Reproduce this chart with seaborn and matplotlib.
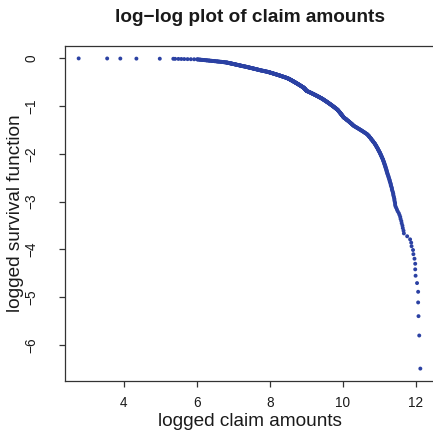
import numpy as np
import pandas as pd
import matplotlib
matplotlib.use("Agg")
import matplotlib.pyplot as plt
import seaborn as sns

# Logged claim amounts (natural log), grouped by range
logclaim_2_6 = [2.77, 3.55, 3.91, 4.35, 4.99, 5.36, 5.41, 5.50, 5.58, 5.66, 5.75, 5.84, 5.93]

logclaim_6_7 = [
    6.01, 6.03, 6.04, 6.07, 6.09, 6.10, 6.13, 6.15, 6.16, 6.19,
    6.21, 6.22, 6.25, 6.27, 6.28, 6.31, 6.33, 6.35, 6.36, 6.39,
    6.41, 6.43, 6.44, 6.47, 6.49, 6.50, 6.53, 6.55, 6.57, 6.58,
    6.61, 6.62, 6.65, 6.67, 6.68, 6.70, 6.72, 6.74, 6.75, 6.77,
    6.79, 6.80, 6.82, 6.83, 6.84, 6.85, 6.86, 6.87, 6.88, 6.89,
    6.90, 6.91, 6.92, 6.93, 6.94, 6.95, 6.96, 6.97, 6.98, 6.99,
]

logclaim_7_8 = [
    7.00, 7.01, 7.02, 7.03, 7.04, 7.05, 7.06, 7.07, 7.08, 7.09,
    7.10, 7.11, 7.12, 7.13, 7.14, 7.15, 7.16, 7.17, 7.18, 7.19,
    7.20, 7.21, 7.22, 7.23, 7.24, 7.25, 7.26, 7.27, 7.28, 7.29,
    7.31, 7.32, 7.33, 7.34, 7.35, 7.36, 7.37, 7.38, 7.39, 7.40,
    7.41, 7.42, 7.43, 7.44, 7.45, 7.46, 7.47, 7.48, 7.49, 7.50,
    7.51, 7.52, 7.53, 7.54, 7.55, 7.56, 7.57, 7.58, 7.59, 7.60,
    7.61, 7.62, 7.63, 7.64, 7.65, 7.66, 7.67, 7.68, 7.69, 7.70,
    7.71, 7.72, 7.73, 7.74, 7.75, 7.76, 7.77, 7.79, 7.80, 7.81,
    7.82, 7.83, 7.85, 7.86, 7.87, 7.88, 7.89, 7.90, 7.92, 7.93,
    7.94, 7.95, 7.96, 7.97, 7.98, 7.99,
]

logclaim_8_9 = [
    8.00, 8.00, 8.01,
    8.02, 8.03, 8.04, 8.05, 8.06, 8.07, 8.08, 8.08, 8.09, 8.10,
    8.11, 8.12, 8.13, 8.14, 8.15, 8.15, 8.16, 8.17, 8.18, 8.19,
    8.20, 8.21, 8.21, 8.22, 8.23, 8.24, 8.25, 8.26, 8.27, 8.28,
    8.28, 8.29, 8.30, 8.31, 8.32, 8.33, 8.34, 8.34, 8.35, 8.36,
    8.37, 8.38, 8.39, 8.40, 8.40, 8.41, 8.42, 8.43, 8.44, 8.45,
    8.45, 8.46, 8.47, 8.48, 8.48, 8.49,
    8.50, 8.51, 8.51, 8.52, 8.52, 8.53, 8.53, 8.54, 8.55, 8.55,
    8.56, 8.56, 8.57, 8.57, 8.58, 8.58, 8.59, 8.60, 8.60, 8.61,
    8.61, 8.62, 8.62, 8.63, 8.63, 8.64, 8.65, 8.65, 8.66, 8.66,
    8.67, 8.67, 8.68, 8.68, 8.69, 8.70, 8.70, 8.71, 8.71, 8.72,
    8.72, 8.73, 8.73, 8.74, 8.75, 8.75, 8.76, 8.76, 8.77, 8.77,
    8.78, 8.78, 8.79, 8.80, 8.80, 8.81, 8.81, 8.82, 8.82, 8.83,
    8.83, 8.84, 8.85, 8.85, 8.86, 8.86, 8.87, 8.87, 8.88, 8.88,
    8.89, 8.90, 8.90, 8.91, 8.91, 8.92, 8.92, 8.93, 8.93,
    8.94, 8.94, 8.94, 8.95, 8.95, 8.95, 8.96, 8.96, 8.96, 8.97,
    8.97, 8.97, 8.98, 8.98, 8.98, 8.99, 8.99, 8.99,
]

logclaim_9_10 = [
    9.00, 9.00, 9.00, 9.01, 9.01, 9.02,
    9.03, 9.04, 9.05, 9.06, 9.07, 9.08, 9.08, 9.09, 9.10, 9.11,
    9.12, 9.13, 9.13, 9.14, 9.15, 9.16, 9.17, 9.18, 9.18, 9.19,
    9.20, 9.21, 9.22, 9.23, 9.23, 9.24, 9.25, 9.26, 9.27, 9.28,
    9.28, 9.29, 9.30, 9.31, 9.32, 9.33, 9.33, 9.34, 9.35, 9.36,
    9.37, 9.37, 9.38, 9.39,
    9.40, 9.41, 9.42, 9.42, 9.43, 9.44, 9.45, 9.45, 9.46, 9.47,
    9.47, 9.48, 9.49, 9.50, 9.50, 9.51, 9.52, 9.52, 9.53, 9.54,
    9.55, 9.55, 9.56, 9.57, 9.57, 9.58, 9.59, 9.60, 9.60, 9.61,
    9.62, 9.62, 9.63, 9.64, 9.65, 9.65, 9.66, 9.67, 9.67, 9.68,
    9.69, 9.70, 9.70, 9.71, 9.72, 9.72, 9.73, 9.74, 9.75, 9.75,
    9.76, 9.77, 9.77, 9.78, 9.79, 9.80, 9.80, 9.81, 9.82, 9.82,
    9.83, 9.84,
    9.85, 9.85, 9.86, 9.86, 9.87, 9.87, 9.88, 9.88, 9.89, 9.89,
    9.90, 9.90, 9.91, 9.91, 9.92, 9.92, 9.93, 9.93, 9.94, 9.94,
    9.95, 9.95, 9.96, 9.96, 9.97, 9.97, 9.98, 9.98, 9.99, 9.99,
]

logclaim_10_11 = [
    10.00, 10.00, 10.01, 10.01, 10.02, 10.02, 10.03,
    10.04, 10.05, 10.06, 10.07, 10.08, 10.09, 10.10, 10.10, 10.11, 10.12,
    10.13, 10.14, 10.15, 10.16, 10.17, 10.18, 10.18, 10.19, 10.20, 10.21,
    10.22, 10.23, 10.24, 10.25, 10.25, 10.26, 10.27, 10.28, 10.29, 10.30,
    10.31, 10.32, 10.34, 10.35, 10.37, 10.38, 10.39, 10.41, 10.42, 10.44,
    10.45, 10.46, 10.48, 10.49, 10.51, 10.52, 10.53, 10.55, 10.56, 10.58,
    10.59, 10.60, 10.62, 10.63, 10.65, 10.66, 10.67,
    10.68, 10.69, 10.70, 10.71, 10.72, 10.72, 10.73, 10.74, 10.75, 10.76,
    10.77, 10.77, 10.78, 10.79, 10.80, 10.81, 10.82, 10.82, 10.83, 10.84,
    10.85,
    10.86, 10.87, 10.88, 10.88, 10.89, 10.90, 10.91, 10.91, 10.92, 10.93,
    10.93, 10.94, 10.95, 10.96, 10.96, 10.97, 10.98, 10.98, 10.99,
]

logclaim_11_up = [
    11.00, 11.01, 11.01, 11.02, 11.03, 11.03, 11.04, 11.05, 11.05, 11.06,
    11.07, 11.07, 11.08,
    11.09, 11.10, 11.10, 11.11, 11.11, 11.12, 11.13, 11.13, 11.14, 11.14,
    11.15, 11.16, 11.16, 11.17, 11.17, 11.18, 11.19, 11.19, 11.20, 11.20,
    11.21, 11.22, 11.22,
    11.23, 11.24, 11.25, 11.25, 11.26, 11.27, 11.28, 11.28, 11.29, 11.30,
    11.31, 11.31, 11.32, 11.33, 11.34, 11.34, 11.35,
    11.36, 11.37, 11.38, 11.38, 11.39, 11.40, 11.41, 11.41, 11.42, 11.43,
    11.43, 11.44,
    11.46, 11.48, 11.50, 11.53, 11.55, 11.57,
    11.58, 11.60, 11.61, 11.63, 11.64, 11.66,
    11.67, 11.76, 11.84, 11.87, 11.88, 11.92, 11.93, 11.96, 11.98, 11.98,
    11.99, 12.03, 12.06, 12.06, 12.07, 12.09, 12.12,
]

x_ticks = [4, 6, 8, 10, 12]
y_ticks = [0, -1, -2, -3, -4, -5, -6]

# Empirical survival function on the log scale
log_claims = np.sort(np.concatenate([
    logclaim_2_6, logclaim_6_7, logclaim_7_8, logclaim_8_9,
    logclaim_9_10, logclaim_10_11, logclaim_11_up,
]))
n = len(log_claims)
survival = (n - np.arange(n)) / n
df = pd.DataFrame({"log_claim": log_claims, "log_surv": np.log(survival)})

sns.set_style("ticks")
plt.rcParams["font.family"] = ["Liberation Sans", "DejaVu Sans"]

W, H = 433, 434
fig = plt.figure(figsize=(W / 100, H / 100), dpi=100)
ax = fig.add_axes([65 / W, 53 / H, (434 - 65) / W, 335 / H])

sns.scatterplot(data=df, x="log_claim", y="log_surv",
                ax=ax, s=8, color="#2b41a3", edgecolor="none", linewidth=0)

# R-style 4% padding around the data range
def padded(lo, hi):
    r = hi - lo
    return lo - 0.04 * r, hi + 0.04 * r

ax.set_xlim(*padded(df["log_claim"].min(), df["log_claim"].max()))
ax.set_ylim(*padded(df["log_surv"].min(), df["log_surv"].max()))
ax.set_xticks(x_ticks)
ax.set_yticks(y_ticks)

for side in ["left", "bottom", "top", "right"]:
    ax.spines[side].set_color("#333333")
    ax.spines[side].set_linewidth(0.9)

ax.tick_params(axis="both", length=4.5, width=0.9, color="#333333",
               labelsize=9.8, labelcolor="#1a1a1a")
ax.tick_params(axis="x", pad=6.3)
ax.tick_params(axis="y", pad=14.5, labelrotation=90)
for lab in ax.get_yticklabels():
    lab.set_va("center")

ax.set_xlabel("")
ax.set_ylabel("")

fig.text(249.5 / W, 1 - 421 / H, "logged claim amounts",
         ha="center", va="center", fontsize=13.7, color="#1a1a1a")
fig.text(16 / W, 53 / H + 0.5 * 335 / H, "logged survival function",
         ha="center", va="center", rotation=90, fontsize=13.7, color="#1a1a1a")
fig.text(249.5 / W, 1 - 17 / H, "log\u2212log plot of claim amounts",
         ha="center", va="center", fontsize=13.7, fontweight="bold", color="#1a1a1a")

fig.savefig("out.png", dpi=100)
